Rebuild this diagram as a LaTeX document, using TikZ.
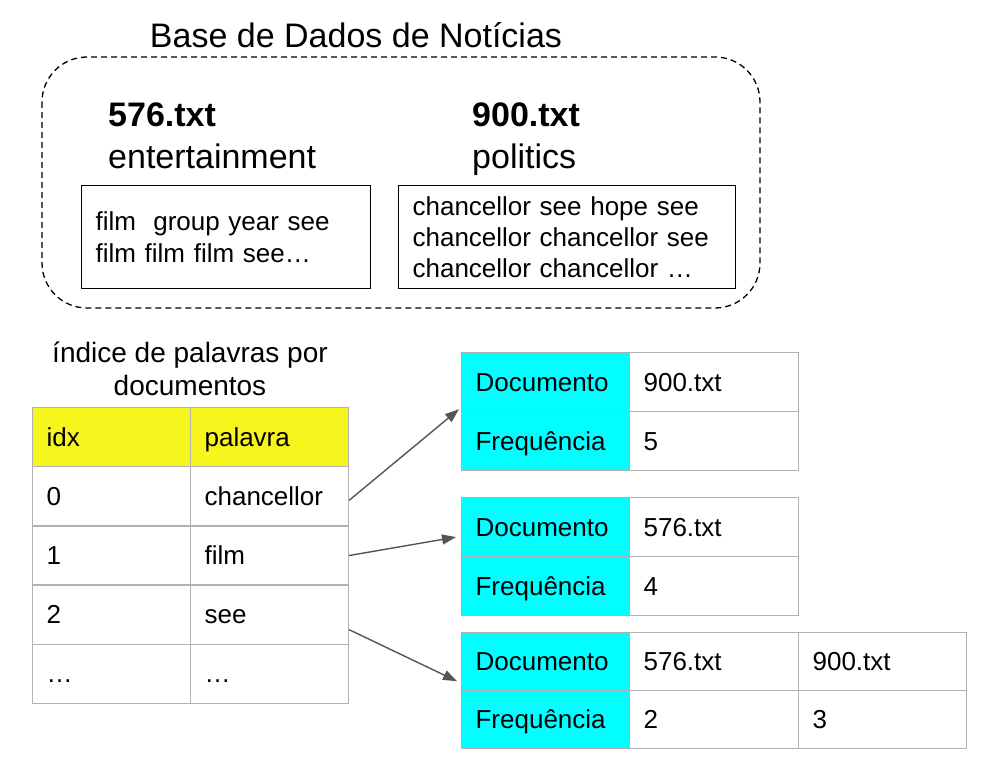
\documentclass[tikz,border=0pt]{standalone}
\usepackage{fontspec}
\setmainfont{Liberation Sans}
\usetikzlibrary{arrows.meta,positioning}

\definecolor{gridgray}{RGB}{178,178,178}
\definecolor{headyellow}{RGB}{246,246,30}
\definecolor{keycyan}{RGB}{0,255,255}
\definecolor{arrowgray}{RGB}{85,85,85}

\newcommand{\bigfont}{\fontsize{34}{42}\selectfont}
\newcommand{\cellfont}{\fontsize{26}{31}\selectfont}

\begin{document}
\begin{tikzpicture}[x=1pt, y=-1pt,
  cell/.style={draw=gridgray, line width=1.2pt, anchor=north west, align=left,
    inner xsep=14pt, inner ysep=0pt, text width=#1, text height=22pt, text depth=4pt,
    minimum height=59pt, font=\cellfont},
  head/.style={cell=#1, fill=headyellow},
  key/.style={cell=#1, fill=keycyan},
  docbox/.style={draw, line width=1.2pt, anchor=north west, align=left, inner xsep=14pt,
    minimum height=103pt, font=\cellfont, text width=#1},
  doclabel/.style={anchor=west, align=left, inner sep=0pt, text depth=0pt, font=\bigfont},
  link/.style={-{Triangle[length=14pt, width=10pt]}, draw=arrowgray, fill=arrowgray, line width=1.4pt},
]
\useasboundingbox (0,0) rectangle (986,768);

% === BASE DE DADOS ===
\node[font=\bigfont, inner sep=0pt] (title) at (356,35) {Base de Dados de Notícias};
\draw[line width=1.3pt, dash pattern=on 6pt off 4pt, rounded corners=45pt] (42,57) rectangle (760,308);

\node[doclabel] (lbl576) at (108,136) {\textbf{576.txt}\\entertainment};
\node[doclabel] (lbl900) at (472,136) {\textbf{900.txt}\\politics};

\node[docbox=261pt, font=\fontsize{26}{32}\selectfont] (txt576) at (81,185) {film\ \ group year see\\film film film see…};
\node[docbox=309pt] (txt900) at (398,185) {chancellor see hope see\\chancellor chancellor see\\chancellor chancellor …};

% === INDICE ===
\node[align=center, font=\fontsize{28}{33}\selectfont, inner sep=0pt] (caption) at (190,369)
  {índice de palavras por\\documentos};

\node[head=130pt] (h0) at (32,407) {idx};
\node[head=130pt] (h1) at (190,407) {palavra};
\node[cell=130pt] (i0) at (32,466.2) {0};
\node[cell=130pt] (w0) at (190,466.2) {chancellor};
\node[cell=130pt] (i1) at (32,525.4) {1};
\node[cell=130pt] (w1) at (190,525.4) {film};
\node[cell=130pt] (i2) at (32,584.6) {2};
\node[cell=130pt] (w2) at (190,584.6) {see};
\node[cell=130pt] (i3) at (32,643.8) {…};
\node[cell=130pt] (w3) at (190,643.8) {…};

% === LISTAS ===
\node[key=140pt] (t1doc) at (461,352) {Documento};
\node[cell=141pt] (t1d1) at (629,352) {900.txt};
\node[key=140pt] (t1frq) at (461,411) {Frequência};
\node[cell=141pt] (t1f1) at (629,411) {5};

\node[key=140pt] (t2doc) at (461,497) {Documento};
\node[cell=141pt] (t2d1) at (629,497) {576.txt};
\node[key=140pt] (t2frq) at (461,556) {Frequência};
\node[cell=141pt] (t2f1) at (629,556) {4};

\node[key=140pt, minimum height=58pt] (t3doc) at (461,632) {Documento};
\node[cell=141pt, minimum height=58pt] (t3d1) at (629,632) {576.txt};
\node[cell=140pt, minimum height=58pt] (t3d2) at (798,632) {900.txt};
\node[key=140pt, minimum height=58pt] (t3frq) at (461,690) {Frequência};
\node[cell=141pt, minimum height=58pt] (t3f1) at (629,690) {2};
\node[cell=140pt, minimum height=58pt] (t3f2) at (798,690) {3};

\draw[link] ([yshift=-4pt]w0.east) -- ([xshift=-2pt,yshift=3pt]t1doc.south west);
\draw[link] (w1.east) -- ([xshift=-5pt,yshift=-10pt]t2doc.west);
\draw[link] ([yshift=-15pt]w2.east) -- ([xshift=-4pt,yshift=10pt]t3doc.south west);
\end{tikzpicture}
\end{document}
